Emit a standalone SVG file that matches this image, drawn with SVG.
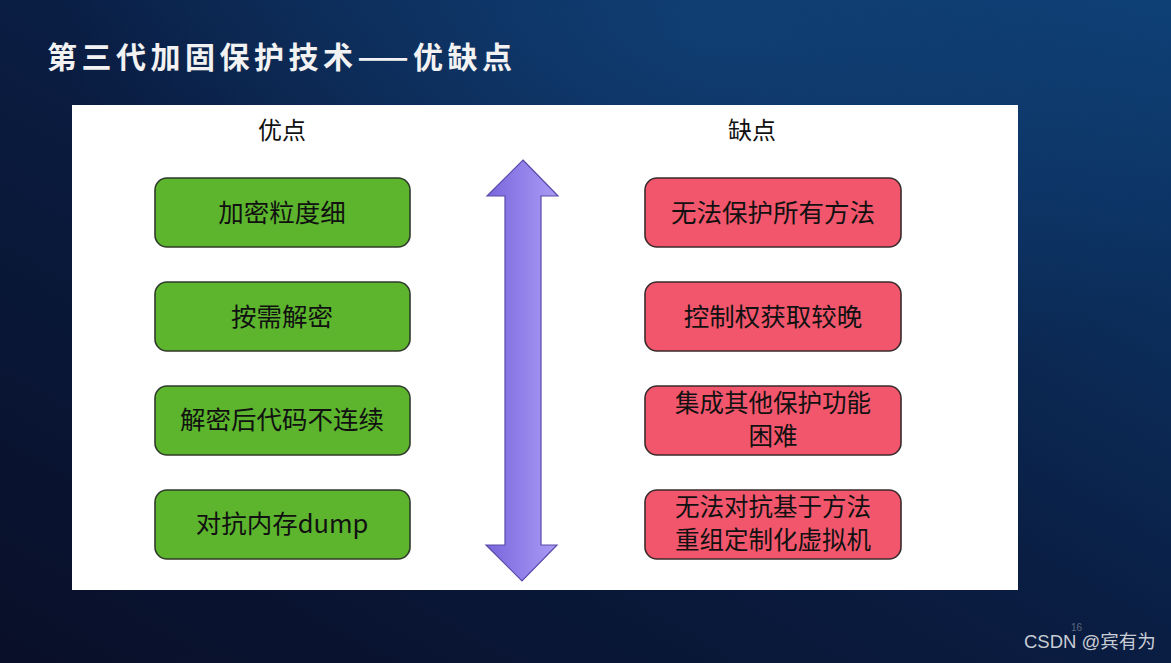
<svg xmlns="http://www.w3.org/2000/svg" width="1171" height="663" viewBox="0 0 1171 663">
<defs>
<linearGradient id="bg" x1="0" y1="1" x2="1" y2="0">
<stop offset="0" stop-color="#090f28"/>
<stop offset="0.5" stop-color="#0a1d42"/>
<stop offset="1" stop-color="#0d3d72"/>
</linearGradient>
<radialGradient id="glow" cx="0.6" cy="0.05" r="0.55">
<stop offset="0" stop-color="#15508e" stop-opacity="0.45"/>
<stop offset="1" stop-color="#15508e" stop-opacity="0"/>
</radialGradient>
<linearGradient id="arr" x1="0" y1="0" x2="1" y2="0">
<stop offset="0" stop-color="#7865dc"/>
<stop offset="1" stop-color="#ab9cf6"/>
</linearGradient>
<style>
.t{font-family:"Noto Sans CJK SC","Noto Sans",sans-serif;font-size:25.5px;fill:#111;text-anchor:middle}
.t2{font-family:"Noto Sans CJK SC","Noto Sans",sans-serif;font-size:24.5px;fill:#111;text-anchor:middle}
.g{fill:#5cb52d;stroke:#2f3a2a;stroke-width:1.6}
.r{fill:#f2566c;stroke:#3a2a2c;stroke-width:1.6}
.h{font-family:"Noto Sans CJK SC",sans-serif;font-size:24px;fill:#111;text-anchor:middle}
</style>
</defs>
<rect width="1171" height="663" fill="url(#bg)"/>
<rect width="1171" height="663" fill="url(#glow)"/>
<text x="47" y="68" font-family="Noto Sans CJK SC,sans-serif" font-size="30" font-weight="bold" fill="#f2f2f2" letter-spacing="4.5">第三代加固保护技术——优缺点</text>
<rect x="72" y="105" width="946" height="485" fill="#ffffff"/>
<text class="h" x="282" y="139">优点</text>
<text class="h" x="752" y="139">缺点</text>
<g id="connectors">
<path d="M523,160 L558,196 L541,196 L541,545 L557,545 L522,581 L486,545 L505,545 L505,196 L487,196 Z" fill="url(#arr)" stroke="#5a4aa8" stroke-width="1.2"/>
</g>
<g id="p1"><rect class="g" x="155" y="178" width="255" height="69" rx="12"/><text class="t" x="282" y="222">加密粒度细</text></g>
<g id="p2"><rect class="g" x="155" y="282" width="255" height="69" rx="12"/><text class="t" x="282" y="326">按需解密</text></g>
<g id="p3"><rect class="g" x="155" y="386" width="255" height="69" rx="12"/><text class="t" x="282" y="429">解密后代码不连续</text></g>
<g id="p4"><rect class="g" x="155" y="490" width="255" height="69" rx="12"/><text class="t" x="282" y="533">对抗内存dump</text></g>
<g id="c1"><rect class="r" x="645" y="178" width="256" height="69" rx="12"/><text class="t" x="773" y="222">无法保护所有方法</text></g>
<g id="c2"><rect class="r" x="645" y="282" width="256" height="69" rx="12"/><text class="t" x="773" y="326">控制权获取较晚</text></g>
<g id="c3"><rect class="r" x="645" y="386" width="256" height="69" rx="12"/><text class="t2"><tspan x="773" y="412">集成其他保护功能</tspan><tspan x="773" y="445">困难</tspan></text></g>
<g id="c4"><rect class="r" x="645" y="490" width="256" height="69" rx="12"/><text class="t2"><tspan x="773" y="516">无法对抗基于方法</tspan><tspan x="773" y="549">重组定制化虚拟机</tspan></text></g>
<text x="1071" y="631" font-family="Liberation Sans,sans-serif" font-size="10" fill="#5a6880">16</text>
<text x="1024" y="648" font-family="Liberation Sans,Noto Sans CJK SC,sans-serif" font-size="18.5" fill="#c8ccd4">CSDN @宾有为</text>
</svg>
